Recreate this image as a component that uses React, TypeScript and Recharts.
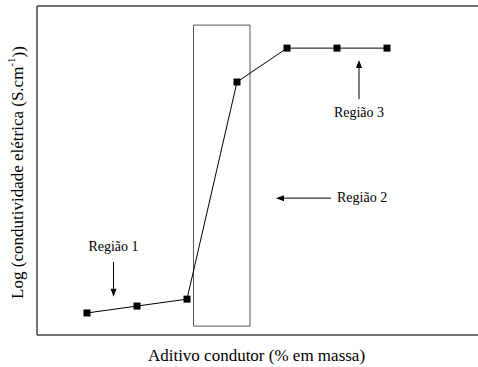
import React from 'react';
import { LineChart, Line, XAxis, YAxis, ReferenceArea, ReferenceLine } from 'recharts';

// Aditivo condutor (posição relativa) e log da condutividade (escala arbitrária)
const additive = [1, 2, 3, 4, 5, 6, 7];
const logConductivity = [0.67, 0.88, 1.09, 7.69, 8.72, 8.72, 8.72];
const regionLabels = ['Região 1', 'Região 2', 'Região 3'];

// faixa da região de percolação (retângulo)
const region2Box = { x1: 3.13, x2: 4.26, y1: 0.27, y2: 9.42 };

const data = additive.map((x, i) => ({ x, y: logConductivity[i] }));

const FONT = "'Liberation Serif', 'Times New Roman', serif";
const FRAME = '#444';

const SquareDot = (props: any) => {
  const { cx, cy } = props;
  if (cx == null || cy == null) return null;
  return <rect x={cx - 3.5} y={cy - 3.5} width={7} height={7} fill="#000" />;
};

// seta com rótulo: desenha do ponto inicial (cauda) até a ponta
const arrowShape = (text: string, place: 'above' | 'below' | 'right') => (props: any) => {
  const { x1, y1, x2, y2 } = props;
  if (x1 == null) return null;
  const ang = Math.atan2(y2 - y1, x2 - x1);
  const len = 8;
  const w = 3;
  const bx = x2 - len * Math.cos(ang);
  const by = y2 - len * Math.sin(ang);
  const px = -Math.sin(ang) * w;
  const py = Math.cos(ang) * w;
  let tx = x1;
  let ty = y1;
  let anchor: 'middle' | 'start' = 'middle';
  if (place === 'above') ty = y1 - 11;
  if (place === 'below') ty = y1 + 18;
  if (place === 'right') {
    tx = x1 + 6;
    ty = y1 + 4;
    anchor = 'start';
  }
  return (
    <g>
      <line x1={x1} y1={y1} x2={bx} y2={by} stroke="#000" strokeWidth={1} />
      <polygon points={`${x2},${y2} ${bx + px},${by + py} ${bx - px},${by - py}`} fill="#000" />
      <text x={tx} y={ty} textAnchor={anchor} fontFamily={FONT} fontSize={14} fill="#000">
        {text}
      </text>
    </g>
  );
};

const YTitle = (props: any) => {
  const vb = props.viewBox || {};
  const cx = vb.x + vb.width / 2 - 1;
  const cy = vb.y + vb.height / 2 + 2;
  return (
    <text
      x={cx}
      y={cy}
      transform={`rotate(-90, ${cx}, ${cy})`}
      textAnchor="middle"
      dominantBaseline="central"
      fontFamily={FONT}
      fontSize={17}
      fill="#000"
    >
      Log (condutividade elétrica (S.cm
      <tspan fontSize={11} dy={-7}>-1</tspan>
      <tspan dy={7}>))</tspan>
    </text>
  );
};

const XTitle = (props: any) => {
  const vb = props.viewBox || {};
  return (
    <text
      x={vb.x + vb.width / 2 - 1}
      y={vb.y + 26}
      textAnchor="middle"
      fontFamily={FONT}
      fontSize={17}
      fill="#000"
    >
      Aditivo condutor (% em massa)
    </text>
  );
};

export default function App() {
  return (
    <div style={{ width: 478, height: 367 }}>
      <style>{'body{margin:0}'}</style>
      <LineChart width={478} height={367} data={data} margin={{ top: 6, right: 0, bottom: 0, left: 0 }}>
        <XAxis
          type="number"
          dataKey="x"
          domain={[0, 8.82]}
          tick={false}
          tickLine={false}
          height={32}
          axisLine={{ stroke: FRAME, strokeWidth: 1.5 }}
          label={{ content: XTitle }}
        />
        <YAxis
          type="number"
          domain={[0, 10]}
          width={37}
          tick={false}
          tickLine={false}
          axisLine={{ stroke: FRAME, strokeWidth: 1.5 }}
          label={{ content: YTitle }}
        />
        <ReferenceLine y={10} stroke={FRAME} strokeWidth={1.5} />
        <ReferenceArea
          x1={region2Box.x1}
          x2={region2Box.x2}
          y1={region2Box.y1}
          y2={region2Box.y2}
          fill="none"
          stroke="#555"
          strokeWidth={1}
        />
        <ReferenceLine
          segment={[{ x: 1.53, y: 2.22 }, { x: 1.53, y: 1.16 }]}
          shape={arrowShape(regionLabels[0], 'above')}
        />
        <ReferenceLine
          segment={[{ x: 5.88, y: 4.16 }, { x: 4.78, y: 4.16 }]}
          shape={arrowShape(regionLabels[1], 'right')}
        />
        <ReferenceLine
          segment={[{ x: 6.44, y: 7.17 }, { x: 6.44, y: 8.36 }]}
          shape={arrowShape(regionLabels[2], 'below')}
        />
        <Line
          type="linear"
          dataKey="y"
          stroke="#000"
          strokeWidth={1}
          dot={<SquareDot />}
          activeDot={false}
          isAnimationActive={false}
        />
      </LineChart>
    </div>
  );
}
